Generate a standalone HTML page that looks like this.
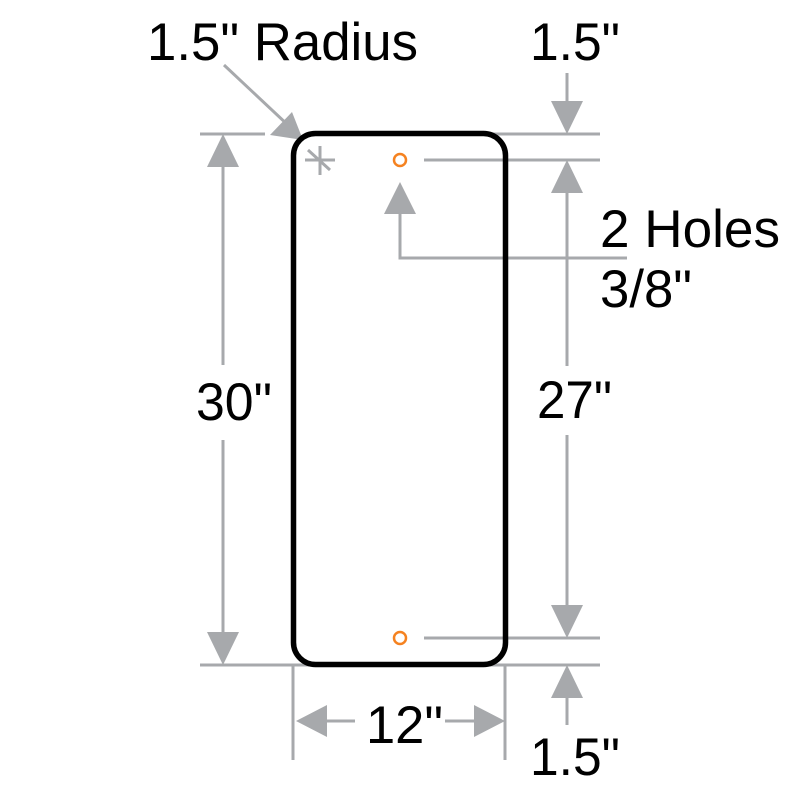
<!DOCTYPE html>
<html><head><meta charset="utf-8"><style>html,body{margin:0;padding:0;background:#fff}svg{display:block}</style></head>
<body>
<svg width="800" height="800" viewBox="0 0 800 800" xmlns="http://www.w3.org/2000/svg">
<g stroke="#a7a9ac" stroke-width="3" fill="none">
  <line x1="200" y1="134" x2="265" y2="134"/>
  <line x1="490" y1="134" x2="600" y2="134"/>
  <line x1="424" y1="160" x2="600" y2="160"/>
  <line x1="424" y1="638" x2="600" y2="638"/>
  <line x1="200" y1="665" x2="600" y2="665"/>
  <line x1="223" y1="165" x2="223" y2="365"/>
  <line x1="223" y1="440" x2="223" y2="635"/>
  <line x1="567" y1="190" x2="567" y2="366"/>
  <line x1="567" y1="435" x2="567" y2="610"/>
  <line x1="567" y1="73" x2="567" y2="105"/>
  <line x1="567" y1="695" x2="567" y2="725"/>
  <line x1="293" y1="665" x2="293" y2="760"/>
  <line x1="505" y1="665" x2="505" y2="760"/>
  <line x1="325" y1="721" x2="355" y2="721"/>
  <line x1="445" y1="721" x2="475" y2="721"/>
  <line x1="224" y1="65" x2="290" y2="127"/>
  <polyline points="400,210 400,258 627,258"/>
  <line x1="305" y1="160" x2="335" y2="160"/>
  <line x1="320" y1="146" x2="320" y2="175"/>
  <line x1="308" y1="150" x2="330" y2="170"/>
</g>
<g fill="#a7a9ac">
  <polygon points="223,134 207,167 239,167"/>
  <polygon points="223,665 207,632 239,632"/>
  <polygon points="567,160 551,193 583,193"/>
  <polygon points="567,638 551,605 583,605"/>
  <polygon points="567,134 551,101 583,101"/>
  <polygon points="567,665 551,698 583,698"/>
  <polygon points="296,721 327,705 327,737"/>
  <polygon points="505,721 474,705 474,737"/>
  <polygon points="400,182 384,214 416,214"/>
  <polygon points="303,140 270,135 292,112"/>
</g>
<rect x="293.5" y="133.5" width="212" height="531" rx="22" ry="22" fill="none" stroke="#000" stroke-width="5.5"/>
<circle cx="400" cy="160" r="6" fill="none" stroke="#f58220" stroke-width="2.5"/>
<circle cx="400" cy="638" r="6" fill="none" stroke="#f58220" stroke-width="2.5"/>
<g font-family="Liberation Sans, Arial, sans-serif" font-size="53" fill="#000">
  <text x="147" y="60" textLength="271" lengthAdjust="spacingAndGlyphs">1.5" Radius</text>
  <text x="530" y="60" textLength="90" lengthAdjust="spacingAndGlyphs">1.5"</text>
  <text x="600" y="247" textLength="180" lengthAdjust="spacingAndGlyphs">2 Holes</text>
  <text x="600" y="307" textLength="92" lengthAdjust="spacingAndGlyphs">3/8"</text>
  <text x="196" y="420" textLength="76" lengthAdjust="spacingAndGlyphs">30"</text>
  <text x="537" y="418" textLength="75" lengthAdjust="spacingAndGlyphs">27"</text>
  <text x="366" y="743" textLength="77" lengthAdjust="spacingAndGlyphs">12"</text>
  <text x="530" y="775" textLength="90" lengthAdjust="spacingAndGlyphs">1.5"</text>
</g>
</svg>
</body></html>
